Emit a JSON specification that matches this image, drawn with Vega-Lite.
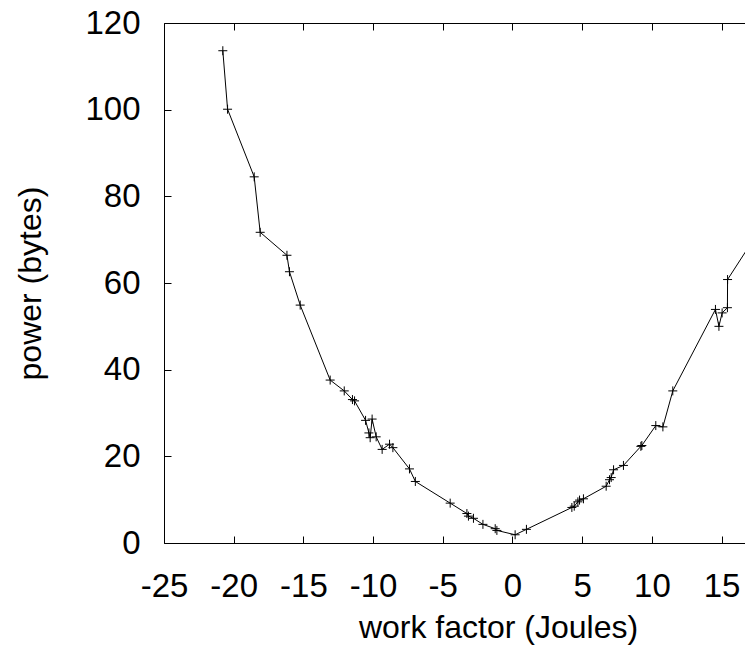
{
  "$schema": "https://vega.github.io/schema/vega-lite/v6.json",
  "autosize": "none",
  "width": 581,
  "height": 520,
  "padding": {"left": 164, "top": 23, "right": 0, "bottom": 105},
  "background": "white",
  "config": {
    "view": {"stroke": null},
    "font": "Liberation Sans",
    "axis": {
      "domainColor": "black",
      "tickColor": "black",
      "labelColor": "black",
      "titleColor": "black",
      "grid": false,
      "domainWidth": 1,
      "tickWidth": 1,
      "labelFont": "Liberation Sans",
      "titleFont": "Liberation Sans",
      "labelFontSize": 33,
      "titleFontSize": 32,
      "titleFontWeight": "normal"
    }
  },
  "data": {
    "values": [
      {"x": -20.78, "y": 113.6},
      {"x": -20.44, "y": 100.1},
      {"x": -18.53, "y": 84.5},
      {"x": -18.1, "y": 71.7},
      {"x": -16.18, "y": 66.4},
      {"x": -16.0, "y": 62.6},
      {"x": -15.23, "y": 54.9},
      {"x": -13.08, "y": 37.6},
      {"x": -12.07, "y": 35.1},
      {"x": -11.48, "y": 33.1},
      {"x": -11.33, "y": 32.8},
      {"x": -10.54, "y": 28.3},
      {"x": -10.3, "y": 25.4},
      {"x": -10.21, "y": 24.3},
      {"x": -10.07, "y": 28.6},
      {"x": -9.78, "y": 24.5},
      {"x": -9.35, "y": 21.6},
      {"x": -8.82, "y": 22.8},
      {"x": -8.58, "y": 22.0},
      {"x": -7.39, "y": 17.1},
      {"x": -6.97, "y": 14.2},
      {"x": -4.47, "y": 9.2},
      {"x": -3.27, "y": 6.8},
      {"x": -3.16, "y": 6.2},
      {"x": -2.8, "y": 5.7},
      {"x": -2.12, "y": 4.3},
      {"x": -1.24, "y": 3.3},
      {"x": -1.12, "y": 2.9},
      {"x": 0.19, "y": 1.9},
      {"x": 1.0, "y": 3.15},
      {"x": 4.26, "y": 8.2},
      {"x": 4.43, "y": 8.5},
      {"x": 4.69, "y": 9.5},
      {"x": 4.81, "y": 9.9},
      {"x": 5.09, "y": 10.2},
      {"x": 6.72, "y": 13.1},
      {"x": 6.96, "y": 14.6},
      {"x": 7.08, "y": 15.1},
      {"x": 7.25, "y": 16.9},
      {"x": 7.96, "y": 17.9},
      {"x": 9.21, "y": 22.3},
      {"x": 9.28, "y": 22.5},
      {"x": 10.28, "y": 27.1},
      {"x": 10.79, "y": 26.8},
      {"x": 11.5, "y": 35.1},
      {"x": 14.56, "y": 53.9},
      {"x": 14.81, "y": 50.0},
      {"x": 15.04, "y": 53.1},
      {"x": 15.42, "y": 54.3},
      {"x": 15.43, "y": 60.8},
      {"x": 17.4, "y": 70.6}
    ]
  },
  "layer": [
    {
      "mark": {"type": "line", "color": "black", "strokeWidth": 1, "clip": true},
      "encoding": {
        "x": {
          "field": "x", "type": "quantitative",
          "scale": {"domain": [-25, 16.68], "nice": false, "zero": false},
          "axis": {
            "orient": "bottom",
            "values": [-25, -20, -15, -10, -5, 0, 5, 10, 15],
            "labelExpr": "'' + datum.value",
            "tickSize": -7,
            "labelPadding": 34,
            "labelFlush": false,
            "labelOverlap": false,
            "title": "work factor (Joules)",
            "titleX": 334,
            "titleY": 84,
            "titleAnchor": "middle",
            "titleAlign": "center",
            "titleBaseline": "middle"
          }
        },
        "y": {
          "field": "y", "type": "quantitative",
          "scale": {"domain": [0, 120], "nice": false},
          "axis": {
            "orient": "left",
            "values": [0, 20, 40, 60, 80, 100, 120],
            "tickSize": -7,
            "labelPadding": 31,
            "labelFlush": false,
            "labelOverlap": false,
            "labelBaseline": "middle",
            "title": "power (bytes)",
            "titleX": -134,
            "titleY": 260,
            "titleAngle": -90,
            "titleAlign": "center",
            "titleBaseline": "middle"
          }
        }
      }
    },
    {
      "mark": {
        "type": "point",
        "shape": "M-1,0L1,0M0,-1L0,1",
        "size": 81,
        "filled": false,
        "stroke": "black",
        "strokeWidth": 1,
        "opacity": 1,
        "clip": true
      },
      "encoding": {
        "x": {
          "field": "x", "type": "quantitative",
          "axis": {
            "orient": "top",
            "values": [-25, -20, -15, -10, -5, 0, 5, 10, 15],
            "tickSize": -7,
            "labels": false,
            "title": null
          }
        },
        "y": {"field": "y", "type": "quantitative"}
      }
    }
  ],
  "resolve": {"axis": {"x": "independent"}}
}
